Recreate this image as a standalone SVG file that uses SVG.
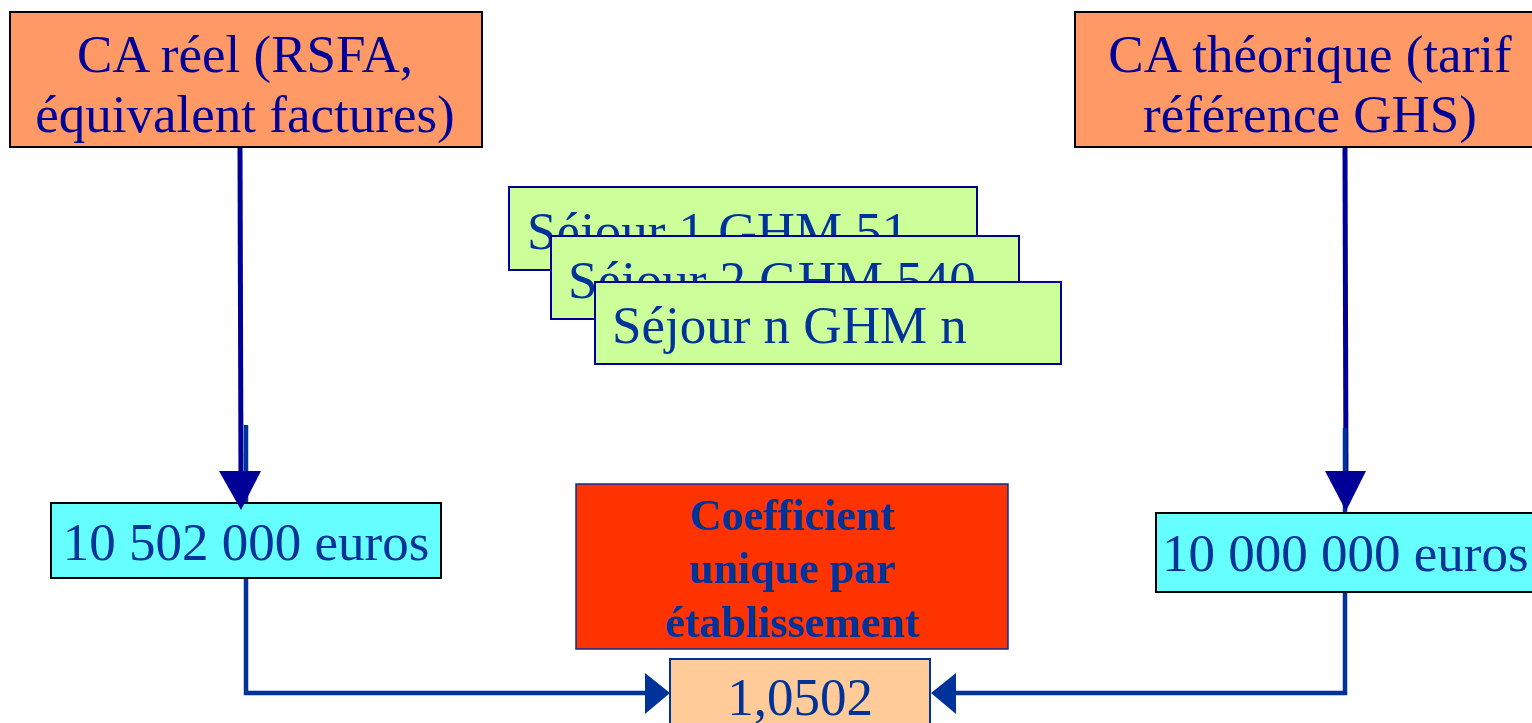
<svg xmlns="http://www.w3.org/2000/svg" width="1532" height="723" viewBox="0 0 1532 723">
  <style>
    .t { font-family: "Liberation Serif", "Times New Roman", serif; font-size: 53px; text-anchor: middle; }
    .navy { fill: #000099; }
    .blue { fill: #003399; }
    .src { fill: #FF9966; stroke: #000000; stroke-width: 2; }
    .sejour { fill: #CCFF99; stroke: #000099; stroke-width: 2; }
    .amount { fill: #66FFFF; stroke: #000000; stroke-width: 2; }
    .coef { fill: #FF3300; stroke: #003399; stroke-width: 1.5; }
    .result { fill: #FFCC99; stroke: #003399; stroke-width: 2; }
    .bold { font-weight: bold; font-size: 44px; }
    .main { stroke: #000099; stroke-width: 5; fill: none; }
    .link { stroke: #003399; stroke-width: 4.5; fill: none; }
  </style>

  <g id="ca-reel">
    <rect class="src" x="10" y="12" width="472" height="135"/>
    <text class="t navy" x="245" y="72">CA réel (RSFA,</text>
    <text class="t navy" x="245" y="132">équivalent factures)</text>
  </g>

  <g id="ca-theorique">
    <rect class="src" x="1075" y="12" width="472" height="135"/>
    <text class="t navy" x="1310" y="72">CA théorique (tarif</text>
    <text class="t navy" x="1310" y="132">référence GHS)</text>
  </g>

  <!-- stacked stay cards, each one partly hiding the one behind -->
  <g id="sejour-1">
    <rect class="sejour" x="509" y="187" width="468" height="83"/>
    <text class="t blue" x="527" y="249" style="text-anchor:start">Séjour 1 GHM 51</text>
  </g>
  <g id="sejour-2">
    <rect class="sejour" x="551" y="236" width="468" height="83"/>
    <text class="t blue" x="568" y="298" style="text-anchor:start">Séjour 2 GHM 540</text>
  </g>
  <g id="sejour-n">
    <rect class="sejour" x="595" y="282" width="466" height="82"/>
    <text class="t blue" x="612" y="343" style="text-anchor:start">Séjour n GHM n</text>
  </g>

  <g id="montant-reel">
    <rect class="amount" x="51" y="503" width="390" height="75"/>
    <text class="t blue" x="246" y="560">10 502 000 euros</text>
  </g>

  <g id="montant-theorique">
    <rect class="amount" x="1156" y="513" width="390" height="79"/>
    <text class="t blue" x="1162" y="571" style="text-anchor:start">10 000 000 euros</text>
  </g>

  <g id="coefficient">
    <rect class="coef" x="576" y="484" width="432" height="165"/>
    <text class="t blue bold" x="792" y="530">Coefficient</text>
    <text class="t blue bold" x="792" y="583">unique par</text>
    <text class="t blue bold" x="792" y="637">établissement</text>
  </g>

  <g id="valeur">
    <rect class="result" x="670" y="659" width="260" height="80"/>
    <text class="t blue" x="800" y="715">1,0502</text>
  </g>

  <!-- flows: drawn last so the arrow tips sit over the box edges -->
  <g id="connectors">
    <line class="main" x1="240" y1="148" x2="241" y2="480"/>
    <line class="link" x1="246" y1="425" x2="246" y2="502"/>
    <polygon fill="#000099" points="219,471 261,471 241,510"/>

    <line class="main" x1="1345" y1="148" x2="1346" y2="480"/>
    <line class="link" x1="1345" y1="428" x2="1345" y2="512"/>
    <polygon fill="#000099" points="1325,471 1366,471 1346,511"/>

    <polyline class="link" points="246,579 246,693 648,693"/>
    <polygon fill="#003399" points="645,673 670,693 645,714"/>

    <polyline class="link" points="1345,593 1345,693 953,693"/>
    <polygon fill="#003399" points="956,673 931,693 956,714"/>
  </g>
</svg>
